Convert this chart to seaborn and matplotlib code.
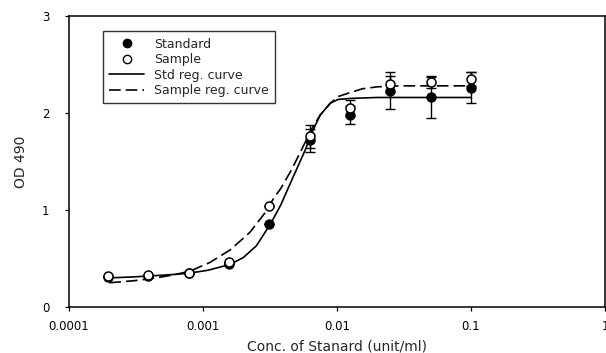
import matplotlib
matplotlib.use("Agg")
import matplotlib.pyplot as plt
from matplotlib.lines import Line2D
import seaborn as sns
import numpy as np
import pandas as pd

# ---- data ----
conc = [0.000195, 0.00039, 0.00078, 0.0015625, 0.003125, 0.00625, 0.0125, 0.025, 0.05, 0.1]
standard = [0.31, 0.32, 0.35, 0.44, 0.86, 1.72, 1.98, 2.23, 2.16, 2.26]
standard_err = [0.0, 0.0, 0.0, 0.0, 0.0, 0.12, 0.09, 0.19, 0.21, 0.16]
sample = [0.32, 0.33, 0.35, 0.46, 1.04, 1.76, 2.05, 2.30, 2.32, 2.35]
sample_err = [0.0, 0.0, 0.0, 0.0, 0.0, 0.12, 0.08, 0.08, 0.06, 0.07]

std_curve_x = [0.0002, 0.0003, 0.0004, 0.0006, 0.0008, 0.0011, 0.0016, 0.002, 0.0025,
               0.0032, 0.0038, 0.0046, 0.0058, 0.0065, 0.0075, 0.0089, 0.0102, 0.0125,
               0.02, 0.05, 0.1]
std_curve_y = [0.30, 0.31, 0.32, 0.335, 0.35, 0.38, 0.44, 0.51, 0.63,
               0.86, 1.05, 1.31, 1.62, 1.80, 1.98, 2.10, 2.14, 2.15,
               2.16, 2.16, 2.16]
smp_curve_x = [0.0002, 0.0003, 0.0004, 0.0006, 0.0008, 0.00113, 0.0016, 0.00224, 0.0029,
               0.0034, 0.0038, 0.0046, 0.0058, 0.0065, 0.0075, 0.0089, 0.0102, 0.0125,
               0.0155, 0.02, 0.03, 0.05, 0.1]
smp_curve_y = [0.25, 0.27, 0.29, 0.33, 0.37, 0.46, 0.59, 0.77, 0.97,
               1.13, 1.22, 1.42, 1.70, 1.84, 1.98, 2.10, 2.17, 2.21,
               2.25, 2.27, 2.28, 2.28, 2.28]

x_ticks = [0.0001, 0.001, 0.01, 0.1, 1]
x_ticklabels = ["0.0001", "0.001", "0.01", "0.1", "1"]
y_ticks = [0, 1, 2, 3]
legend_labels = ["Standard", "Sample", "Std reg. curve", "Sample reg. curve"]

sns.set_style("ticks")
plt.rcParams['font.family'] = ['DejaVu Sans']

fig = plt.figure(figsize=(6.06, 3.53), dpi=100)
ax = fig.add_axes([69/606, 1-307/353, (605-69)/606, (307-16)/353])

df_std = pd.DataFrame({"x": std_curve_x, "y": std_curve_y})
df_smp = pd.DataFrame({"x": smp_curve_x, "y": smp_curve_y})
sns.lineplot(data=df_std, x="x", y="y", ax=ax, color="black", lw=1.2, sort=True)
sns.lineplot(data=df_smp, x="x", y="y", ax=ax, color="black", lw=1.2, sort=True,
             linestyle=(0, (7, 3)))

ax.errorbar(conc, standard, yerr=standard_err, fmt="none", ecolor="black",
            elinewidth=1.0, capsize=3.5, capthick=1.0, zorder=3)
ax.errorbar(conc, sample, yerr=sample_err, fmt="none", ecolor="black",
            elinewidth=1.0, capsize=3.5, capthick=1.0, zorder=3)

df_s = pd.DataFrame({"x": conc, "y": standard})
df_o = pd.DataFrame({"x": conc, "y": sample})
sns.scatterplot(data=df_s, x="x", y="y", ax=ax, color="black", edgecolor="black",
                s=42, linewidth=1.0, zorder=4)
sns.scatterplot(data=df_o, x="x", y="y", ax=ax, color="white", edgecolor="black",
                s=42, linewidth=1.1, zorder=5)

ax.set_xscale("log")
ax.set_xlim(0.0001, 1)
ax.set_ylim(0, 3)
ax.set_xticks(x_ticks)
ax.set_xticklabels(x_ticklabels)
ax.minorticks_off()
ax.set_yticks(y_ticks)
ax.tick_params(axis="both", labelsize=8.5, length=3, width=0.9, colors="black")
ax.tick_params(axis="x", pad=6)
ax.tick_params(axis="y", pad=11)
for sp in ax.spines.values():
    sp.set_linewidth(1.1)
    sp.set_color("black")

ax.set_xlabel("Conc. of Stanard (unit/ml)", fontsize=10, labelpad=5)
ax.set_ylabel("OD 490", fontsize=10, labelpad=10)

handles = [
    Line2D([], [], marker="o", color="black", linestyle="none", markersize=6,
           markerfacecolor="black"),
    Line2D([], [], marker="o", color="black", linestyle="none", markersize=6,
           markerfacecolor="white"),
    Line2D([], [], color="black", lw=1.2),
    Line2D([], [], color="black", lw=1.2, linestyle=(0, (7, 3))),
]
leg = ax.legend(handles, legend_labels, loc="upper left", bbox_to_anchor=(0.056, 0.96),
                fontsize=9, frameon=True, fancybox=False, edgecolor="black",
                handlelength=2.8, handletextpad=0.8, labelspacing=0.2,
                borderpad=0.5, borderaxespad=0.3)
leg.get_frame().set_linewidth(1.0)

fig.savefig("out.png", dpi=100)
